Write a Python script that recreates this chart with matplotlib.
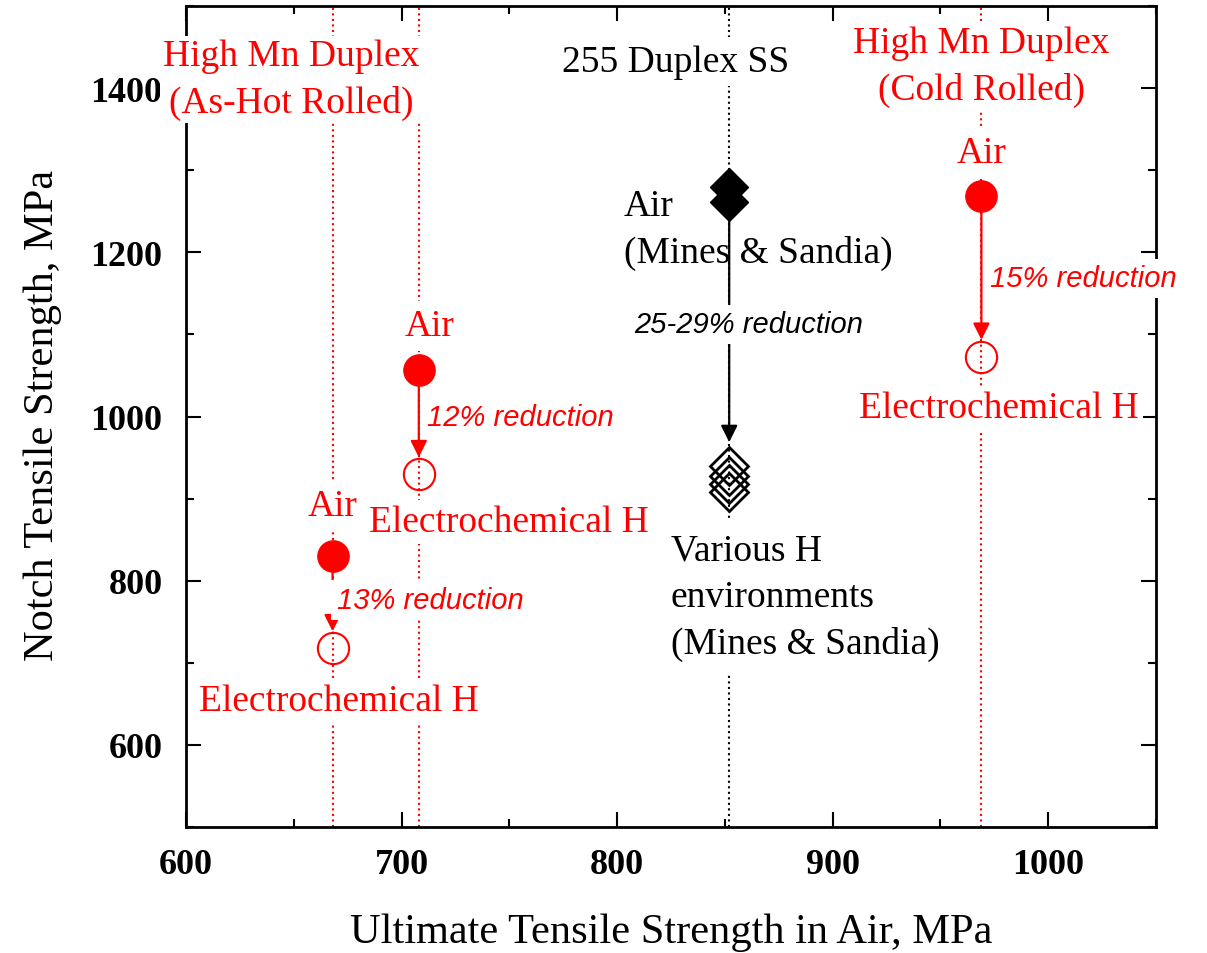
import matplotlib.pyplot as plt
from matplotlib.ticker import MultipleLocator

# Notch tensile strength vs UTS (MPa)
hot_uts = [668, 708]
hot_air = [830, 1057]
hot_h = [718, 930]
hot_red = ["13% reduction", "12% reduction"]

cold_uts = [969]
cold_air = [1268]
cold_h = [1073]
cold_red = ["15% reduction"]

ss_uts = [852]
ss_air = [1280, 1261]
ss_h = [940, 928, 918, 908]
ss_red = ["25-29% reduction"]

SERIF = "Liberation Serif"
SANS = "Liberation Sans"

fig = plt.figure(figsize=(12.07, 9.54), dpi=100)
ax = fig.add_axes([186 / 1207, 1 - 828 / 954, 970 / 1207, 821 / 954])

ax.set_xlim(600, 1050)
ax.set_ylim(500, 1500)

# vertical dotted guides
for x in hot_uts + cold_uts:
    ax.axvline(x, color="red", ls=":", lw=1.5, zorder=1)
for x in ss_uts:
    ax.axvline(x, color="black", ls=":", lw=1.5, zorder=1)

# markers
ax.plot(hot_uts + cold_uts, hot_air + cold_air, "o", color="red", ms=22.5, zorder=5)
ax.plot(hot_uts + cold_uts, hot_h + cold_h, "o", mfc="none", mec="red", mew=1.5, ms=22.5, zorder=5)
ax.plot(ss_uts * len(ss_air), ss_air, "D", color="black", ms=19.5, zorder=5)
ax.plot(ss_uts * len(ss_h), ss_h, "D", mfc="none", mec="black", mew=2, ms=19.5, zorder=5)


def arrow(x, y0, y1, color, sa, sb):
    ax.annotate("", xy=(x, y1), xytext=(x, y0),
                arrowprops=dict(arrowstyle="-|>", color=color, lw=1.6, mutation_scale=25,
                                shrinkA=sa, shrinkB=sb), zorder=4)


for x, a, h in zip(hot_uts + cold_uts, hot_air + cold_air, hot_h + cold_h):
    arrow(x, a, h, "red", 12, 12)
arrow(ss_uts[0], min(ss_air), max(ss_h), "black", 14, 17)


def label(x, y, s, color, ha="center", pad=0.2, box=True):
    # y is the baseline of the last line
    kw = dict(color=color, ha=ha, va="baseline", fontsize=27, family=SERIF,
              linespacing=1.45, zorder=6)
    if box:
        kw["bbox"] = dict(boxstyle=f"square,pad={pad}", fc="white", ec="none")
    ax.text(x, y, s, **kw)


def red_text(x, y, s, color):
    ax.text(x, y, s, color=color, ha="left", va="baseline", fontsize=21,
            family=SANS, style="italic", zorder=6,
            bbox=dict(boxstyle="square,pad=0.2", fc="white", ec="none"))


# group titles
label(649, 1370.7, "High Mn Duplex\n(As-Hot Rolled)", "red", pad=0.08)
label(969, 1386.6, "High Mn Duplex\n(Cold Rolled)", "red", pad=0.12)
label(827, 1421, "255 Duplex SS", "black")

# condition labels
label(668, 880.5, "Air", "red")
label(713, 1099, "Air", "red")
label(969, 1310, "Air", "red")
label(671, 642.7, "Electrochemical H", "red", pad=0.12)
label(750, 860, "Electrochemical H", "red", pad=0.12)
label(977, 999, "Electrochemical H", "red", pad=0.12)
label(803, 1187.8, "Air\n(Mines & Sandia)", "black", ha="left", box=False)
label(825, 712.2, "Various H\nenvironments\n(Mines & Sandia)", "black", ha="left", pad=0.35)

# reduction notes
red_text(670, 767, hot_red[0], "red")
red_text(712, 990, hot_red[1], "red")
red_text(973, 1158.5, cold_red[0], "red")
red_text(808, 1102.4, ss_red[0], "black")

# axes styling
for sp in ax.spines.values():
    sp.set_linewidth(2)
ax.xaxis.set_major_locator(MultipleLocator(100))
ax.xaxis.set_minor_locator(MultipleLocator(50))
ax.yaxis.set_major_locator(MultipleLocator(200))
ax.yaxis.set_minor_locator(MultipleLocator(100))
ax.tick_params(which="both", direction="in", top=True, right=True, width=1.5)
ax.tick_params(which="major", length=11)
ax.tick_params(which="minor", length=6)
ax.tick_params(axis="x", pad=15)
ax.tick_params(axis="y", pad=17)
for t in ax.get_xticklabels() + ax.get_yticklabels():
    t.set_fontfamily(SERIF)
    t.set_fontweight("bold")
    t.set_fontsize(26)

ax.set_xlabel("Ultimate Tensile Strength in Air, MPa", family=SERIF, fontsize=30.5)
ax.set_ylabel("Notch Tensile Strength, MPa", family=SERIF, fontsize=30.5)
ax.xaxis.set_label_coords(0.5, -0.104)
ax.yaxis.set_label_coords(-0.128, 0.503)

fig.savefig("out.png", dpi=100)
